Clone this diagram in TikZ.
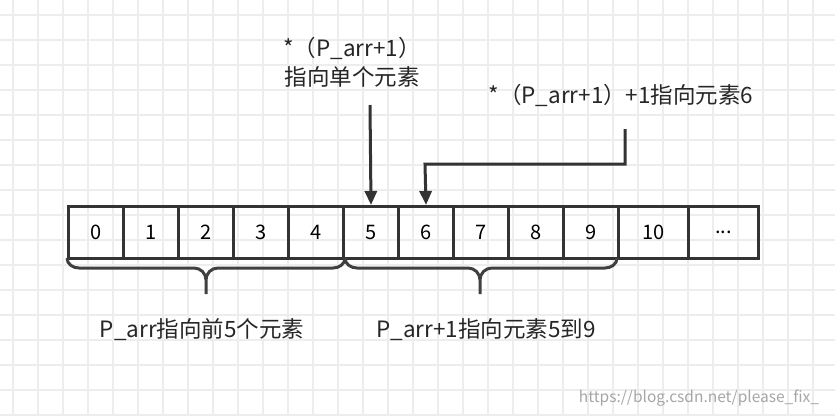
\documentclass[tikz,border=0pt]{standalone}
\usepackage{fontspec}
\setmainfont{Noto Sans CJK SC}
\usetikzlibrary{arrows.meta}
\begin{document}
\begin{tikzpicture}[x=1pt,y=-1pt,
  cell/.style={draw=black!80,line width=3pt,minimum height=52pt,inner sep=0pt,anchor=north west,font=\fontsize{20}{22}\selectfont},
  lbl/.style={font=\fontsize{22.5}{29}\selectfont,text=black!85,align=center},
  brc/.style={draw=black!75,line width=3pt},
  arr/.style={draw=black!80,line width=3pt,-{Triangle[length=14pt,width=12pt]}}]
\useasboundingbox (0,0) rectangle (835,416);
\fill[white] (0,0) rectangle (835,416);
\foreach \i in {0,...,33} \draw[black!7,line width=1.3pt] (13+25*\i,0) -- (13+25*\i,416);
\foreach \j in {0,...,16} \draw[black!7,line width=1.3pt] (0,15+25*\j) -- (835,15+25*\j);
\foreach \i in {0,...,9} \node[cell,minimum width=55pt] (c\i) at (67+55*\i,205) {\i};
\node[cell,minimum width=70pt] (c10) at (617,205) {10};
\node[cell,minimum width=70pt] (c11) at (687,205) {...};
\draw[brc] (67,258) to[out=-90,in=180] (79,268) -- (194,268) to[out=0,in=90] (206,280) -- (206,294)
  (206,280) to[out=90,in=180] (218,268) -- (333,268) to[out=0,in=-90] (345,258);
\draw[brc] (345,258) to[out=-90,in=180] (357,268) -- (468,268) to[out=0,in=90] (480,280) -- (480,294)
  (480,280) to[out=90,in=180] (492,268) -- (605,268) to[out=0,in=-90] (617,258);
\node[lbl] (t1) at (352,62) {*（P\_arr+1）\\指向单个元素};
\coordinate (a1) at (370,105);
\draw[arr] (a1) -- (c5.north);
\node[lbl] (t2) at (621,95) {*（P\_arr+1）+1指向元素6};
\coordinate (a2) at (625,129);
\draw[arr] (a2) -- (625,164) -- (425,164) -- (c6.north);
\node[lbl] (b1) at (202,330) {P\_arr指向前5个元素};
\node[lbl] (b2) at (486,330) {P\_arr+1指向元素5到9};
\node[font=\fontsize{15.5}{18}\selectfont,text=black!35] (w) at (699,398) {https://blog.csdn.net/please\_fix\_};
\end{tikzpicture}
\end{document}
